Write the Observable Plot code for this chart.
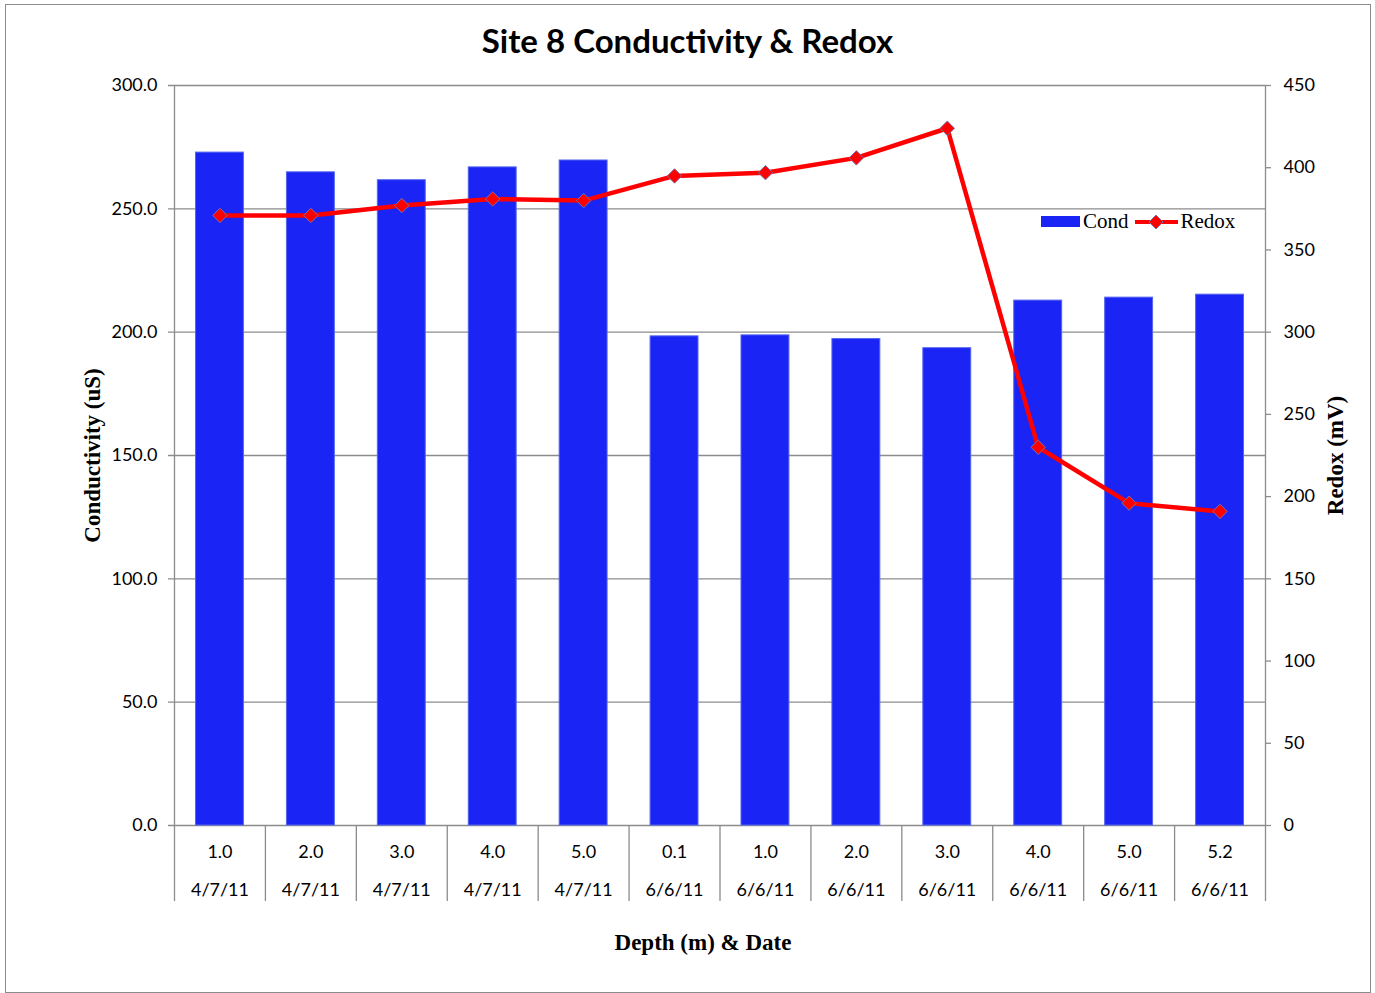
<!DOCTYPE html>
<html>
<head>
<meta charset="utf-8">
<script src="https://cdn.jsdelivr.net/npm/d3@7"></script>
<script src="https://cdn.jsdelivr.net/npm/@observablehq/plot@0.6"></script>
<style>
  body { margin: 0; background: #fff; }
  #wrap { position: relative; width: 1375px; height: 993px; overflow: hidden; }
  #wrap svg { position: absolute; left: 0; top: 0; }
  #frame { position: absolute; left: 5px; top: 4px; width: 1364px; height: 987px; border: 1px solid #8c8c8c; pointer-events: none; }
  #title { position: absolute; left: 0; width: 1375px; top: 20px; text-align: center; font-family: Lato, "Open Sans", sans-serif; font-weight: bold; font-size: 33px; color: #000; }
  #legend { position: absolute; left: 1041px; top: 209px; font-family: "Liberation Serif", serif; font-size: 21px; display: flex; align-items: center; white-space: nowrap; }
  .sw-bar { display: inline-block; width: 39px; height: 11px; background: #1a24f5; margin-right: 3px; }
</style>
</head>
<body>
<div id="wrap">
  <div id="frame"></div>
  <div id="title">Site 8 Conductivity &amp; Redox</div>
  <div id="legend">
    <span class="sw-bar"></span><span>Cond</span>
    <svg width="46" height="20" style="position:static;margin:0 1px 0 5px"><line x1="1" y1="10" x2="44" y2="10" stroke="#ff0000" stroke-width="4"/><path d="M22,3 L29,10 L22,17 L15,10 Z" fill="#ff0000" stroke="#7a6fa8" stroke-width="1"/></svg><span>Redox</span>
  </div>
</div>
<script>
const depths = ["1.0","2.0","3.0","4.0","5.0","0.1","1.0","2.0","3.0","4.0","5.0","5.2"];
const dates = ["4/7/11","4/7/11","4/7/11","4/7/11","4/7/11","6/6/11","6/6/11","6/6/11","6/6/11","6/6/11","6/6/11","6/6/11"];
const cond = [272.8, 264.8, 261.6, 266.8, 269.6, 198.3, 198.7, 197.2, 193.5, 212.8, 214.0, 215.2];
const redox = [371, 371, 377, 381, 380, 395, 397, 406, 424, 230, 196, 191];
const condTicks = [0, 50, 100, 150, 200, 250, 300];
const redoxTicks = [0, 50, 100, 150, 200, 250, 300, 350, 400, 450];

const condMax = 300, redoxMax = 450;
const toY = r => r * condMax / redoxMax;

const data = depths.map((d, i) => ({i, depth: d, date: dates[i], cond: cond[i], redox: redox[i]}));

const W = 1375, H = 993;
const mL = 174, mR = 110, mT = 85, mB = 168;
const plotW = W - mL - mR, plotH = H - mT - mB;
const gray = "#8c8c8c";
const serif = "'Liberation Serif', serif";

const chart = Plot.plot({
  width: W, height: H,
  marginLeft: mL, marginRight: mR, marginTop: mT, marginBottom: mB,
  x: {domain: [0, depths.length], axis: null},
  y: {domain: [0, condMax], axis: null},
  style: {background: "transparent", fontFamily: "Lato, 'Open Sans', sans-serif"},
  marks: [
    Plot.ruleY(condTicks, {stroke: gray, strokeWidth: 1.3, insetLeft: -6}),
    Plot.ruleY(redoxTicks, {y: d => toY(d), stroke: gray, strokeWidth: 1.3, insetLeft: plotW, insetRight: -6}),
    Plot.ruleX(d3.range(depths.length + 1), {stroke: gray, strokeWidth: 1.3, insetTop: plotH, insetBottom: -76}),
    Plot.ruleX([0, depths.length], {stroke: gray, strokeWidth: 1.3}),
    Plot.rectY(data, {x1: d => d.i, x2: d => d.i + 1, y: "cond", insetLeft: 21.5, insetRight: 21.5, fill: "#1a24f5", stroke: "#5566ee", strokeWidth: 1}),
    Plot.line(data, {x: d => d.i + 0.5, y: d => toY(d.redox), stroke: "#ff0000", strokeWidth: 4.5, curve: "linear"}),
    Plot.dot(data, {x: d => d.i + 0.5, y: d => toY(d.redox), symbol: "diamond2", r: 6.5, fill: "#ff0000", stroke: "#7a6fa8", strokeWidth: 1}),
    Plot.axisY(condTicks, {anchor: "left", tickSize: 0, tickPadding: 17, tickFormat: d => d.toFixed(1), fontSize: 18, fill: "#000", label: null}),
    Plot.text(redoxTicks, {y: d => toY(d), text: d => String(d), frameAnchor: "right", dx: 18, textAnchor: "start", fontSize: 18, fill: "#000"}),
    Plot.text(data, {x: d => d.i + 0.5, text: "depth", frameAnchor: "bottom", dy: 32, fontSize: 18, fill: "#000"}),
    Plot.text(data, {x: d => d.i + 0.5, text: "date", frameAnchor: "bottom", dy: 70, fontSize: 18, fill: "#000"}),
    Plot.text(["Conductivity (uS)"], {text: d => d, frameAnchor: "left", textAnchor: "middle", dx: -82, rotate: -90, fontSize: 23, fontWeight: "bold", fontFamily: serif, fill: "#000"}),
    Plot.text(["Redox (mV)"], {text: d => d, frameAnchor: "right", textAnchor: "middle", dx: 70, rotate: -90, fontSize: 23, fontWeight: "bold", fontFamily: serif, fill: "#000"}),
    Plot.text(["Depth (m) & Date"], {text: d => d, frameAnchor: "bottom", dx: -17, dy: 124, fontSize: 23, fontWeight: "bold", fontFamily: serif, fill: "#000"})
  ]
});
document.getElementById("wrap").insertBefore(chart, document.getElementById("frame"));
</script>
</body>
</html>
